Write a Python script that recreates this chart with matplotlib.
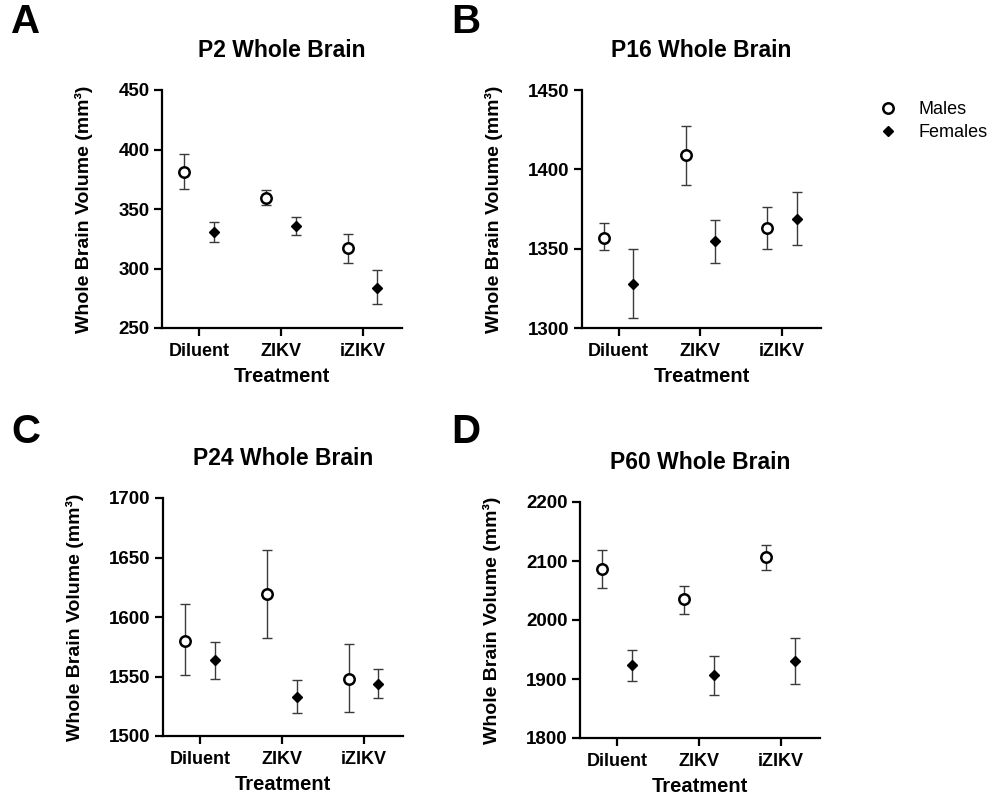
import matplotlib
matplotlib.use("Agg")
import matplotlib.pyplot as plt
from matplotlib.lines import Line2D
import numpy as np

plt.rcParams['font.family'] = ['Liberation Sans', 'DejaVu Sans']

treatments = ["Diluent", "ZIKV", "iZIKV"]

# Panel A: P2
p2_male = [381, 359, 317]
p2_male_lo = [367, 353, 305]
p2_male_hi = [396, 366, 329]
p2_female = [331, 336, 284]
p2_female_lo = [322, 328, 270]
p2_female_hi = [339, 343, 299]

# Panel B: P16
p16_male = [1357, 1409, 1363]
p16_male_lo = [1349, 1390, 1350]
p16_male_hi = [1366, 1427, 1376]
p16_female = [1328, 1355, 1369]
p16_female_lo = [1306, 1341, 1352]
p16_female_hi = [1350, 1368, 1386]

# Panel C: P24
p24_male = [1580, 1619, 1548]
p24_male_lo = [1551, 1582, 1520]
p24_male_hi = [1611, 1656, 1577]
p24_female = [1564, 1533, 1544]
p24_female_lo = [1548, 1519, 1532]
p24_female_hi = [1579, 1547, 1556]

# Panel D: P60
p60_male = [2087, 2035, 2106]
p60_male_lo = [2054, 2011, 2085]
p60_male_hi = [2119, 2058, 2127]
p60_female = [1924, 1906, 1930]
p60_female_lo = [1897, 1873, 1892]
p60_female_hi = [1950, 1939, 1969]

panels = [
    ("A", "P2 Whole Brain", (250, 450), [250, 300, 350, 400, 450],
     p2_male, p2_male_lo, p2_male_hi, p2_female, p2_female_lo, p2_female_hi),
    ("B", "P16 Whole Brain", (1300, 1450), [1300, 1350, 1400, 1450],
     p16_male, p16_male_lo, p16_male_hi, p16_female, p16_female_lo, p16_female_hi),
    ("C", "P24 Whole Brain", (1500, 1700), [1500, 1550, 1600, 1650, 1700],
     p24_male, p24_male_lo, p24_male_hi, p24_female, p24_female_lo, p24_female_hi),
    ("D", "P60 Whole Brain", (1800, 2200), [1800, 1900, 2000, 2100, 2200],
     p60_male, p60_male_lo, p60_male_hi, p60_female, p60_female_lo, p60_female_hi),
]

W, H = 988, 801
fig = plt.figure(figsize=(W / 100, H / 100), dpi=100)

# axes rectangles in pixels: left, top, right, bottom
rects = [(162, 90, 402, 328), (582, 90, 821, 328), (163, 498, 403, 736), (580, 502, 820, 738)]
letter_pos = [(11, 22), (451, 22), (11, 432), (451, 432)]

off = 0.18
err_color = "#3a3a3a"

for (letter, title, ylim, yticks, m, mlo, mhi, f, flo, fhi), (l, t, r, b), (lx, ly) in zip(panels, rects, letter_pos):
    ax = fig.add_axes([l / W, 1 - b / H, (r - l) / W, (b - t) / H])
    x = np.arange(len(treatments))
    m = np.array(m); f = np.array(f)
    merr = np.array([m - np.array(mlo), np.array(mhi) - m])
    ferr = np.array([f - np.array(flo), np.array(fhi) - f])
    ax.errorbar(x - off, m, yerr=merr, fmt='none', ecolor=err_color, elinewidth=1.0,
                capsize=3.5, capthick=1.0, zorder=2)
    ax.errorbar(x + off, f, yerr=ferr, fmt='none', ecolor=err_color, elinewidth=1.0,
                capsize=3.5, capthick=1.0, zorder=2)
    ax.plot(x - off, m, linestyle='none', marker='o', markersize=7.5, markerfacecolor='white',
            markeredgecolor='black', markeredgewidth=1.8, zorder=3)
    ax.plot(x + off, f, linestyle='none', marker='D', markersize=5.5, markerfacecolor='black',
            markeredgecolor='black', zorder=3)
    ax.set_xlim(-0.45, 2.48)
    ax.set_ylim(*ylim)
    ax.set_yticks(yticks)
    ax.set_xticks(x)
    ax.set_xticklabels(treatments)
    for s in ['top', 'right']:
        ax.spines[s].set_visible(False)
    for s in ['left', 'bottom']:
        ax.spines[s].set_linewidth(1.6)
    ax.tick_params(axis='y', length=6, width=1.6, labelsize=13.5, pad=3)
    ax.tick_params(axis='x', length=6, width=1.6, labelsize=13, pad=5)
    for lab in ax.get_xticklabels() + ax.get_yticklabels():
        lab.set_fontweight('bold')
    ax.set_xlabel("Treatment", fontsize=14.5, fontweight='bold', labelpad=5)
    ax.set_ylabel("Whole Brain Volume (mm³)", fontsize=14, fontweight='bold', labelpad=18)
    ax.set_title(title, fontsize=16.5, fontweight='bold', pad=24)
    fig.text(lx / W, 1 - ly / H, letter, fontsize=29, fontweight='bold', ha='left', va='center')

handles = [
    Line2D([], [], linestyle='none', marker='o', markersize=7.5, markerfacecolor='white',
           markeredgecolor='black', markeredgewidth=1.8),
    Line2D([], [], linestyle='none', marker='D', markersize=5.5, markerfacecolor='black',
           markeredgecolor='black'),
]
fig.legend(handles, ["Males", "Females"], loc='upper left', bbox_to_anchor=(866 / W, 1 - 90 / H),
           frameon=False, fontsize=13, handletextpad=1.1, labelspacing=0.35, handlelength=1.2,
           borderaxespad=0.2)

fig.savefig("out.png", dpi=100)
